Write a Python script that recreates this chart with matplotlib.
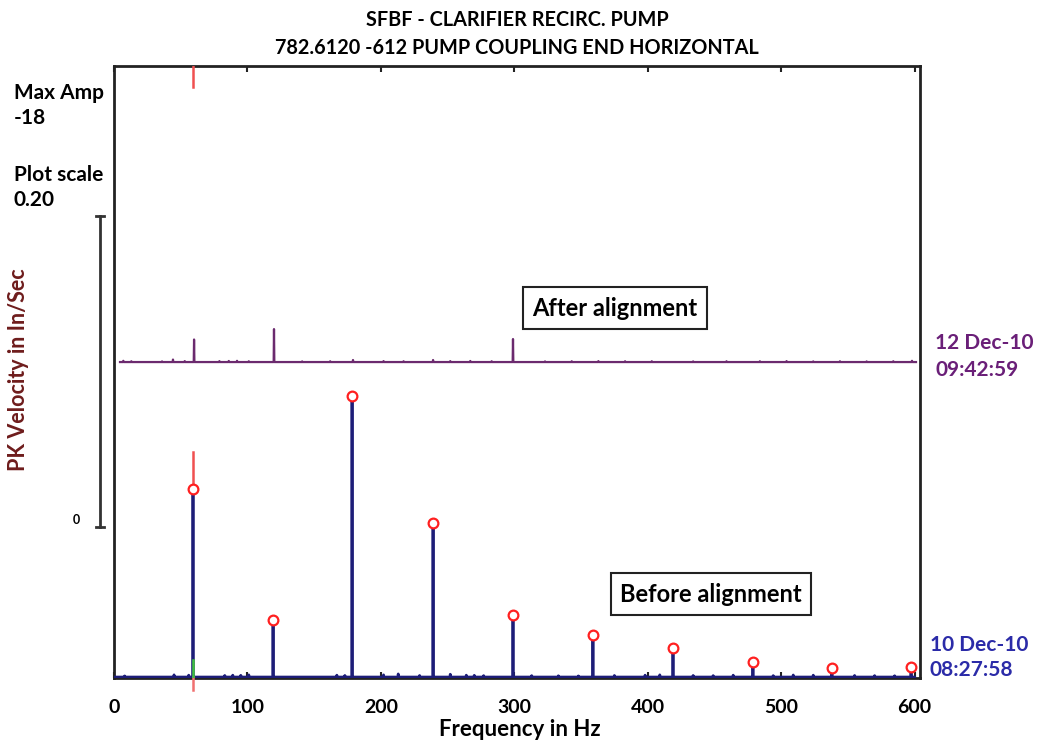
import matplotlib
matplotlib.use("Agg")
import matplotlib.pyplot as plt
import numpy as np
from matplotlib.transforms import blended_transform_factory

plt.rcParams['font.family'] = ['Lato', 'DejaVu Sans']

# ---------------- data ----------------
title_lines = ["SFBF - CLARIFIER RECIRC. PUMP", "782.6120 -612 PUMP COUPLING END HORIZONTAL"]
x_ticks = [0, 100, 200, 300, 400, 500, 600]

# Before alignment (lower trace), in/sec
before_peak_freq = [59.2, 119.2, 178.4, 239.1, 299.0, 358.9, 418.9, 478.8, 538.0, 597.3]
before_peak_amp = [0.121, 0.0367, 0.1807, 0.099, 0.0399, 0.027, 0.0186, 0.0096, 0.0058, 0.0064]
before_noise_freq = [8, 45, 56, 83, 89, 95, 101, 167, 173, 202, 213, 229, 252, 264, 270, 277,
                     313, 333, 348, 375, 398, 409, 434, 449, 464, 494, 509, 524, 555, 570, 585]
before_noise_amp = [0.0007, 0.0014, 0.0012, 0.0010, 0.0012, 0.0011, 0.0014, 0.0012, 0.0010,
                    0.0014, 0.0020, 0.0010, 0.0018, 0.0012, 0.0011, 0.0009, 0.0009, 0.0008,
                    0.0007, 0.0010, 0.0012, 0.0014, 0.0010, 0.0009, 0.0012, 0.0009, 0.0013,
                    0.0012, 0.0010, 0.0009, 0.0008]
before_range = [0.0, 600]

# After alignment (upper trace), in/sec above its own baseline
after_offset = 0.2026
after_peak_freq = [44.2, 60.0, 92.2, 119.9, 179.1, 239.1, 299.0]
after_peak_amp = [0.0016, 0.0145, 0.0008, 0.0212, 0.0013, 0.0013, 0.0148]
after_noise_freq = [7, 13, 36, 53, 79, 86, 101, 141, 162, 202, 217, 252, 267, 283, 323, 343,
                    363, 383, 403, 434, 459, 484, 504, 524, 544, 564, 584, 598]
after_noise_amp = [0.0008, 0.0005, 0.0004, 0.0006, 0.0006, 0.0007, 0.0005, 0.0004, 0.0005,
                   0.0006, 0.0005, 0.0006, 0.0007, 0.0005, 0.0004, 0.0005, 0.0006, 0.0005,
                   0.0005, 0.0004, 0.0005, 0.0005, 0.0006, 0.0004, 0.0005, 0.0004, 0.0005, 0.0008]
after_range = [4.5, 601]

cursor_freq = 59.2
scale_bar = [0.0965, 0.2965]


def build_trace(pf, pa, nf, na, rng, base=0.0):
    f = list(pf) + list(nf)
    a = list(pa) + list(na)
    order = np.argsort(f)
    xs, ys = [rng[0]], [base]
    for i in order:
        xs += [f[i] - 0.25, f[i], f[i] + 0.25]
        ys += [base, base + a[i], base]
    xs.append(rng[1])
    ys.append(base)
    return xs, ys


W, H = 1037, 743
fig = plt.figure(figsize=(W / 100, H / 100), dpi=100)
ax = fig.add_axes([114 / W, 1 - 678 / H, (920 - 114) / W, (678 - 66) / H])
ax.set_xlim(0, 604)
ax.set_ylim(-0.0006, 0.393)

# traces
xa, ya = build_trace(after_peak_freq, after_peak_amp, after_noise_freq, after_noise_amp,
                     after_range, after_offset)
ax.plot(xa, ya, color='#6b2a6e', lw=1.6, zorder=3)

xb, yb = build_trace(before_peak_freq, before_peak_amp, before_noise_freq, before_noise_amp,
                     before_range, 0.0)
ax.plot(xb, yb, color='#1d1d78', lw=2.0, zorder=3)

# peak markers
ax.plot(before_peak_freq, before_peak_amp, ls='none', marker='o', ms=7,
        mfc='white', mec='#ff2020', mew=1.6, zorder=5)

# red cursor at 1x
ax.plot([cursor_freq, cursor_freq], [0.393, 0.3795], color='#f05050', lw=1.8, zorder=4)
ax.plot([cursor_freq, cursor_freq], [0.1447, 0.1235], color='#f05050', lw=1.8, zorder=4)
ax.plot([cursor_freq, cursor_freq], [0.0, -0.0085], color='#f07070', lw=1.8, zorder=4,
        clip_on=False)
ax.plot([cursor_freq, cursor_freq], [0.0, 0.011], color='#40c040', lw=1.8, zorder=4)

# axes styling
for s in ax.spines.values():
    s.set_linewidth(2.0)
    s.set_color('#222222')
ax.set_xticks(x_ticks)
ax.set_yticks([])
ax.tick_params(axis='x', direction='in', length=4, width=1.5, top=True, bottom=True,
               labelsize=14, pad=15, colors='#222222', labelcolor='black')
for lab in ax.get_xticklabels():
    lab.set_fontweight('bold')
fig.text(520 / W, 1 - 729 / H, "Frequency in Hz", ha='center', va='center', fontsize=16,
         fontweight='bold')

# titles
fig.text(517 / W, 1 - 20 / H, title_lines[0], ha='center', va='center', fontsize=14.3,
         fontweight='bold')
fig.text(517 / W, 1 - 48 / H, title_lines[1], ha='center', va='center', fontsize=14.3,
         fontweight='bold')

# left annotations
for txt, yy in [("Max Amp", 93), ("-18", 118), ("Plot scale", 175), ("0.20", 200)]:
    fig.text(14 / W, 1 - yy / H, txt, ha='left', va='center', fontsize=15, fontweight='bold')

fig.text(19 / W, 1 - 370 / H, "PK Velocity in In/Sec", rotation=90, ha='center',
         va='center', fontsize=15.5, fontweight='bold', color='#6e1c1c')

# scale bar (in data coordinates, outside axes)
tr = blended_transform_factory(fig.transFigure, ax.transData)
xb0 = 100 / W
ax.plot([xb0, xb0], scale_bar, transform=tr, color='#333333', lw=2, clip_on=False)
for yv in scale_bar:
    ax.plot([96 / W, 104 / W], [yv, yv], transform=tr, color='#333333', lw=2, clip_on=False)
fig.text(76 / W, 1 - 520 / H, "0", ha='center', va='center', fontsize=9, fontweight='bold')

# right date labels
fig.text(935 / W, 1 - 343 / H, "12 Dec-10", ha='left', va='center', fontsize=15,
         fontweight='bold', color='#6a1f78')
fig.text(935 / W, 1 - 370 / H, "09:42:59", ha='left', va='center', fontsize=15,
         fontweight='bold', color='#6a1f78')
fig.text(930 / W, 1 - 645 / H, "10 Dec-10", ha='left', va='center', fontsize=15,
         fontweight='bold', color='#2b2ba8')
fig.text(930 / W, 1 - 670 / H, "08:27:58", ha='left', va='center', fontsize=15,
         fontweight='bold', color='#2b2ba8')

# boxed labels
box = dict(boxstyle='square,pad=0.4', fc='white', ec='#222222', lw=1.5)
fig.text(615 / W, 1 - 308 / H, "After alignment", ha='center', va='center', fontsize=17,
         fontweight='bold', bbox=box)
fig.text(711 / W, 1 - 594 / H, "Before alignment", ha='center', va='center', fontsize=17,
         fontweight='bold', bbox=box)

fig.savefig("out.png", dpi=100)
